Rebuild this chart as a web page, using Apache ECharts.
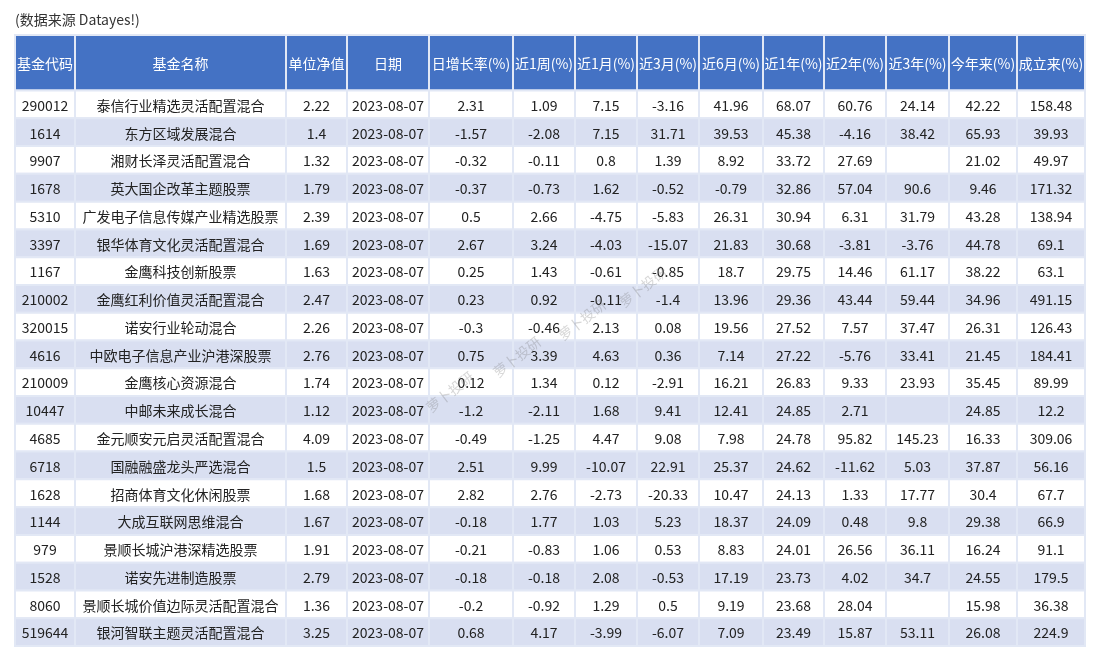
<!DOCTYPE html>
<html>
<head>
<meta charset="utf-8">
<title>基金业绩表</title>
<script src="https://cdn.jsdelivr.net/npm/echarts@6/dist/echarts.min.js"></script>
<style>
  html, body { margin: 0; padding: 0; background: #fff; }
  #main { width: 1100px; height: 660px; }
</style>
</head>
<body>
<div id="main"></div>
<script>
// table columns
const headers = ['基金代码', '基金名称', '单位净值', '日期', '日增长率(%)', '近1周(%)', '近1月(%)', '近3月(%)', '近6月(%)', '近1年(%)', '近2年(%)', '近3年(%)', '今年来(%)', '成立来(%)'];

const fundCodes = ['290012', '1614', '9907', '1678', '5310', '3397', '1167', '210002', '320015', '4616', '210009', '10447', '4685', '6718', '1628', '1144', '979', '1528', '8060', '519644'];
const fundNames = ['泰信行业精选灵活配置混合', '东方区域发展混合', '湘财长泽灵活配置混合', '英大国企改革主题股票', '广发电子信息传媒产业精选股票', '银华体育文化灵活配置混合', '金鹰科技创新股票', '金鹰红利价值灵活配置混合', '诺安行业轮动混合', '中欧电子信息产业沪港深股票', '金鹰核心资源混合', '中邮未来成长混合', '金元顺安元启灵活配置混合', '国融融盛龙头严选混合', '招商体育文化休闲股票', '大成互联网思维混合', '景顺长城沪港深精选股票', '诺安先进制造股票', '景顺长城价值边际灵活配置混合', '银河智联主题灵活配置混合'];
const navValues = [2.22, 1.4, 1.32, 1.79, 2.39, 1.69, 1.63, 2.47, 2.26, 2.76, 1.74, 1.12, 4.09, 1.5, 1.68, 1.67, 1.91, 2.79, 1.36, 3.25];
const navDate = '2023-08-07';
const dayChange = [2.31, -1.57, -0.32, -0.37, 0.5, 2.67, 0.25, 0.23, -0.3, 0.75, 0.12, -1.2, -0.49, 2.51, 2.82, -0.18, -0.21, -0.18, -0.2, 0.68];
const week1 = [1.09, -2.08, -0.11, -0.73, 2.66, 3.24, 1.43, 0.92, -0.46, 3.39, 1.34, -2.11, -1.25, 9.99, 2.76, 1.77, -0.83, -0.18, -0.92, 4.17];
const month1 = [7.15, 7.15, 0.8, 1.62, -4.75, -4.03, -0.61, -0.11, 2.13, 4.63, 0.12, 1.68, 4.47, -10.07, -2.73, 1.03, 1.06, 2.08, 1.29, -3.99];
const month3 = [-3.16, 31.71, 1.39, -0.52, -5.83, -15.07, -0.85, -1.4, 0.08, 0.36, -2.91, 9.41, 9.08, 22.91, -20.33, 5.23, 0.53, -0.53, 0.5, -6.07];
const month6 = [41.96, 39.53, 8.92, -0.79, 26.31, 21.83, 18.7, 13.96, 19.56, 7.14, 16.21, 12.41, 7.98, 25.37, 10.47, 18.37, 8.83, 17.19, 9.19, 7.09];
const year1 = [68.07, 45.38, 33.72, 32.86, 30.94, 30.68, 29.75, 29.36, 27.52, 27.22, 26.83, 24.85, 24.78, 24.62, 24.13, 24.09, 24.01, 23.73, 23.68, 23.49];
const year2 = [60.76, -4.16, 27.69, 57.04, 6.31, -3.81, 14.46, 43.44, 7.57, -5.76, 9.33, 2.71, 95.82, -11.62, 1.33, 0.48, 26.56, 4.02, 28.04, 15.87];
const year3 = [24.14, 38.42, null, 90.6, 31.79, -3.76, 61.17, 59.44, 37.47, 33.41, 23.93, null, 145.23, 5.03, 17.77, 9.8, 36.11, 34.7, null, 53.11];
const ytd = [42.22, 65.93, 21.02, 9.46, 43.28, 44.78, 38.22, 34.96, 26.31, 21.45, 35.45, 24.85, 16.33, 37.87, 30.4, 29.38, 16.24, 24.55, 15.98, 26.08];
const sinceInception = [158.48, 39.93, 49.97, 171.32, 138.94, 69.1, 63.1, 491.15, 126.43, 184.41, 89.99, 12.2, 309.06, 56.16, 67.7, 66.9, 91.1, 179.5, 36.38, 224.9];

// layout
const colWidths = [60, 211, 61, 82, 84, 62, 62, 62, 64, 61, 62, 63, 68, 68];
const headerSpan = 2;

const colEdges = [0];
colWidths.forEach(function (w, i) {
  colEdges.push(colEdges[i] + w);
});
const totalWidth = colEdges[colEdges.length - 1];
const rowCount = fundCodes.length;

const columns = [
  fundCodes, fundNames, navValues, fundCodes.map(function () { return navDate; }),
  dayChange, week1, month1, month3, month6, year1, year2, year3, ytd, sinceInception
];

// cells: value = [x0, y0, x1, y1], plus text/kind
const cells = [];
headers.forEach(function (h, c) {
  cells.push({ value: [colEdges[c], 0, colEdges[c + 1], headerSpan], text: h, kind: 'head', row: -1 });
});
for (let r = 0; r < rowCount; r++) {
  columns.forEach(function (col, c) {
    const v = col[r];
    cells.push({
      value: [colEdges[c], headerSpan + r, colEdges[c + 1], headerSpan + r + 1],
      text: v === null || v === undefined ? '' : String(v),
      kind: 'body',
      row: r
    });
  });
}

const fontFamily = '"Noto Sans CJK SC", "Noto Sans", sans-serif';

function renderCell(params, api) {
  const cell = cells[params.dataIndex];
  const p0 = api.coord([api.value(0), api.value(1)]);
  const p1 = api.coord([api.value(2), api.value(3)]);
  const x = p0[0], y = p0[1];
  const w = p1[0] - p0[0], h = p1[1] - p0[1];
  let fill = '#ffffff';
  if (cell.kind === 'head') {
    fill = '#4472C4';
  } else if (cell.row % 2 === 1) {
    fill = '#D9DFF1';
  }
  return {
    type: 'group',
    children: [
      {
        type: 'rect',
        shape: { x: x, y: y, width: w, height: h },
        style: { fill: fill, stroke: '#E2E8F5', lineWidth: 2 }
      },
      {
        type: 'text',
        style: {
          x: x + w / 2,
          y: y + h / 2 + 1,
          text: cell.text,
          fill: cell.kind === 'head' ? '#ffffff' : '#222222',
          font: '14px ' + fontFamily,
          align: 'center',
          verticalAlign: 'middle'
        }
      }
    ]
  };
}

const watermarks = [[450, 392], [517, 357], [582, 320], [643, 287]].map(function (p) {
  return {
    type: 'text',
    x: p[0],
    y: p[1],
    rotation: 0.66,
    z: 100,
    style: {
      text: '萝卜投研',
      fill: 'rgba(110,110,110,0.28)',
      font: '14px ' + fontFamily,
      align: 'center',
      verticalAlign: 'middle'
    }
  };
});

const chart = echarts.init(document.getElementById('main'));
chart.setOption({
  animation: false,
  backgroundColor: '#ffffff',
  title: {
    text: '(数据来源 Datayes!)',
    left: 10,
    top: 8,
    textStyle: { fontSize: 14, fontWeight: 'normal', color: '#333', fontFamily: fontFamily }
  },
  grid: { left: 15, top: 35, width: totalWidth, bottom: 14 },
  xAxis: {
    type: 'value',
    min: 0,
    max: totalWidth,
    show: false
  },
  yAxis: {
    type: 'value',
    min: 0,
    max: headerSpan + rowCount,
    inverse: true,
    show: false
  },
  graphic: watermarks,
  series: [
    {
      type: 'custom',
      renderItem: renderCell,
      encode: { x: [0, 2], y: [1, 3] },
      clip: false,
      data: cells.map(function (c) { return c.value; })
    }
  ]
});
</script>
</body>
</html>
